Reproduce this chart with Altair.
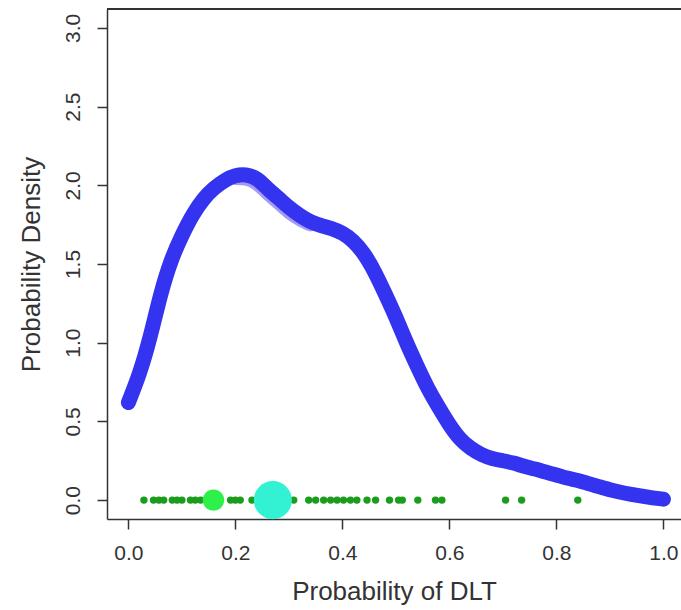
import altair as alt
import pandas as pd

# Posterior density of the probability of DLT
dens_x = [0.00, 0.02, 0.04, 0.06, 0.08, 0.10, 0.12, 0.14, 0.16, 0.18,
          0.20, 0.22, 0.24, 0.26, 0.28, 0.30, 0.32, 0.34, 0.36, 0.38,
          0.40, 0.42, 0.44, 0.46, 0.48, 0.50, 0.52, 0.54, 0.56, 0.58,
          0.60, 0.62, 0.64, 0.66, 0.68, 0.70, 0.72, 0.74, 0.76, 0.78,
          0.80, 0.82, 0.84, 0.86, 0.88, 0.90, 0.92, 0.94, 0.96, 0.98, 1.00]
dens_y = [0.62, 0.80, 1.03, 1.30, 1.52, 1.68, 1.81, 1.91, 1.98, 2.03,
          2.06, 2.065, 2.04, 1.98, 1.92, 1.86, 1.81, 1.77, 1.745, 1.725,
          1.695, 1.645, 1.565, 1.45, 1.31, 1.16, 1.00, 0.85, 0.71, 0.59,
          0.48, 0.39, 0.33, 0.29, 0.265, 0.25, 0.235, 0.215, 0.197, 0.178,
          0.16, 0.14, 0.125, 0.105, 0.085, 0.066, 0.05, 0.037, 0.025, 0.014, 0.006]

# Lighter companion curve visible just under the peak
shade_x = [0.20, 0.22, 0.24, 0.26, 0.28, 0.30, 0.32, 0.34]
shade_y = [2.05, 2.045, 2.015, 1.955, 1.895, 1.835, 1.79, 1.755]

# Observed probabilities, drawn along the baseline
obs_x = [0.029, 0.047, 0.057, 0.066, 0.082, 0.091, 0.100, 0.116, 0.125, 0.135,
         0.145, 0.191, 0.200, 0.209, 0.231, 0.240, 0.258, 0.290, 0.309, 0.337,
         0.350, 0.365, 0.378, 0.390, 0.402, 0.415, 0.427, 0.446, 0.462, 0.488,
         0.505, 0.512, 0.541, 0.574, 0.586, 0.705, 0.735, 0.840]

# Highlighted summary points
highlight_x = [0.159, 0.270]
highlight_kind = ["a", "b"]
highlight_size = [460, 1450]
highlight_color = ["#2ef04a", "#33f2d4"]

x_ticks = [0.0, 0.2, 0.4, 0.6, 0.8, 1.0]
y_ticks = [0.0, 0.5, 1.0, 1.5, 2.0, 2.5, 3.0]

W, H = 574, 510
FONT = "Liberation Sans"
INK = "#333333"

dens = pd.DataFrame({"x": dens_x, "y": dens_y})
shade = pd.DataFrame({"x": shade_x, "y": shade_y})
obs = pd.DataFrame({"x": obs_x, "y": [0.0] * len(obs_x)})
hl = pd.DataFrame({"x": highlight_x, "y": [0.0, 0.0], "kind": highlight_kind,
                   "size": highlight_size})

xscale = alt.Scale(domain=[-0.04, 1.0329], nice=False, zero=False)
yscale = alt.Scale(domain=[-0.12, 3.12], nice=False, zero=False)

xaxis = alt.Axis(values=x_ticks, format=".1f", title="Probability of DLT",
                 grid=False, labelFontSize=21, titleFontSize=26,
                 labelFont=FONT, titleFont=FONT, labelColor=INK, titleColor=INK,
                 titleFontWeight="normal", tickSize=10, tickWidth=1.5,
                 tickColor=INK, domainColor=INK, domainWidth=1.5,
                 labelPadding=13, titlePadding=15, labelFlush=False)
yaxis = alt.Axis(values=y_ticks, format=".1f", title="Probability Density",
                 grid=False, labelFontSize=21, titleFontSize=26,
                 labelFont=FONT, titleFont=FONT, labelColor=INK, titleColor=INK,
                 titleFontWeight="normal", tickSize=10, tickWidth=1.5,
                 tickColor=INK, domainColor=INK, domainWidth=1.5,
                 labelAngle=270, labelAlign="center", labelBaseline="bottom",
                 labelPadding=14, titlePadding=18, labelFlush=False)


def X():
    return alt.X("x:Q", scale=xscale, axis=xaxis)


def Y():
    return alt.Y("y:Q", scale=yscale, axis=yaxis)


top_border = alt.Chart(dens).mark_rule(color=INK, strokeWidth=1.5).encode(
    x=alt.value(0), x2=alt.value(W), y=alt.value(0)
)

shade_line = alt.Chart(shade).mark_line(
    color="#a49cf2", strokeWidth=15, strokeCap="round", strokeJoin="round",
    interpolate="natural"
).encode(x=X(), y=Y())

dens_line = alt.Chart(dens).mark_line(
    color="#3333f0", strokeWidth=15, strokeCap="round", strokeJoin="round",
    interpolate="natural"
).encode(x=X(), y=Y())

obs_pts = alt.Chart(obs).mark_circle(color="#1c9c1c", size=55, opacity=1).encode(
    x=X(), y=Y()
)

hl_pts = alt.Chart(hl).mark_circle(opacity=1).encode(
    x=X(), y=Y(),
    size=alt.Size("size:Q", scale=None, legend=None),
    color=alt.Color("kind:N", scale=alt.Scale(domain=highlight_kind,
                                              range=highlight_color), legend=None),
)

chart = alt.layer(top_border, shade_line, dens_line, obs_pts, hl_pts).properties(
    width=W, height=H,
    autosize=alt.AutoSizeParams(type="none"),
    padding={"left": 107, "top": 9, "right": 0, "bottom": 91},
    background="white",
).configure_view(stroke=None)

chart.save("out.html", embed_options={"renderer": "svg", "actions": False})
